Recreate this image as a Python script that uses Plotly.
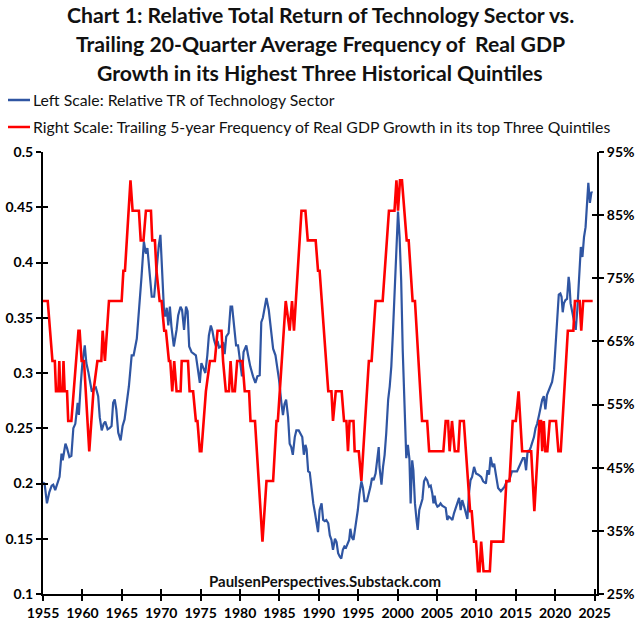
import plotly.graph_objects as go

# ---------------- data ----------------
tech_years = [
    1955.0, 1955.2, 1955.5, 1955.8, 1956.1, 1956.3, 1956.55, 1956.9, 1957.1, 1957.35, 1957.5, 1957.85,
    1958.05, 1958.35, 1958.6, 1958.85, 1959.1, 1959.4, 1959.55, 1959.8, 1960.0, 1960.3, 1960.5, 1960.75,
    1960.95, 1961.2, 1961.45, 1961.7, 1962.0, 1962.2, 1962.45, 1962.7, 1962.9, 1963.2, 1963.45, 1963.7,
    1963.9, 1964.1, 1964.3, 1964.55, 1964.85, 1965.1, 1965.35, 1965.7, 1965.9, 1966.25, 1966.5, 1966.9,
    1967.2, 1967.5, 1967.8, 1968.05, 1968.25, 1968.5, 1968.8, 1969.1, 1969.4, 1969.7, 1969.9, 1970.15,
    1970.35, 1970.5, 1970.7, 1970.9, 1971.1, 1971.3, 1971.6, 1971.95, 1972.15, 1972.45, 1972.65, 1972.9,
    1973.15, 1973.35, 1973.55, 1973.85, 1974.2, 1974.4, 1974.6, 1974.9, 1975.1, 1975.35, 1975.6, 1975.85,
    1976.05, 1976.3, 1976.5, 1976.7, 1976.95, 1977.15, 1977.35, 1977.6, 1977.85, 1978.05, 1978.25, 1978.55,
    1978.8, 1979.0, 1979.2, 1979.5, 1979.75, 1980.05, 1980.25, 1980.45, 1980.8, 1981.0, 1981.3, 1981.65,
    1981.95, 1982.2, 1982.5, 1982.7, 1982.9, 1983.15, 1983.35, 1983.65, 1983.9, 1984.2, 1984.5, 1984.7,
    1984.95, 1985.25, 1985.45, 1985.65, 1985.85, 1986.1, 1986.3, 1986.5, 1986.7, 1986.95, 1987.15, 1987.45,
    1987.7, 1987.9, 1988.1, 1988.3, 1988.45, 1988.65, 1988.85, 1989.1, 1989.3, 1989.5, 1989.7, 1989.9,
    1990.1, 1990.35, 1990.55, 1990.75, 1990.95, 1991.2, 1991.4, 1991.6, 1991.8, 1992.05, 1992.25, 1992.45,
    1992.65, 1992.85, 1993.05, 1993.25, 1993.45, 1993.65, 1993.85, 1994.0, 1994.2, 1994.4, 1994.55, 1994.75,
    1994.95, 1995.15, 1995.4, 1995.6, 1995.8, 1996.1, 1996.35, 1996.55, 1996.75, 1996.95, 1997.2, 1997.4,
    1997.6, 1997.7, 1997.95, 1998.15, 1998.35, 1998.55, 1998.8, 1999.0, 1999.2, 1999.4, 1999.6, 1999.85,
    2000.05, 2000.25, 2000.45, 2000.65, 2000.9, 2001.1, 2001.3, 2001.5, 2001.65, 2001.85, 2002.0, 2002.2,
    2002.4, 2002.55, 2002.75, 2002.95, 2003.15, 2003.35, 2003.55, 2003.75, 2004.0, 2004.2, 2004.4, 2004.55,
    2004.7, 2004.85, 2005.05, 2005.25, 2005.45, 2005.65, 2005.9, 2006.1, 2006.3, 2006.5, 2006.7, 2006.95,
    2007.15, 2007.35, 2007.6, 2007.8, 2008.0, 2008.2, 2008.45, 2008.65, 2008.85, 2009.05, 2009.25, 2009.45,
    2009.7, 2009.95, 2010.25, 2010.6, 2010.85, 2011.2, 2011.4, 2011.6, 2011.8, 2012.05, 2012.25, 2012.45,
    2012.75, 2013.1, 2013.35, 2013.55, 2013.85, 2014.1, 2014.3, 2014.5, 2014.8, 2015.15, 2015.4, 2015.6,
    2015.9, 2016.1, 2016.3, 2016.5, 2016.7, 2016.9, 2017.1, 2017.3, 2017.5, 2017.7, 2017.95, 2018.15,
    2018.35, 2018.55, 2018.75, 2018.95, 2019.2, 2019.4, 2019.6, 2019.85, 2020.05, 2020.25, 2020.45, 2020.65,
    2020.8, 2020.95, 2021.1, 2021.3, 2021.5, 2021.7, 2021.8, 2021.95, 2022.2, 2022.4, 2022.6, 2022.8,
    2023.05, 2023.25, 2023.45, 2023.65, 2023.85, 2024.0, 2024.2, 2024.4, 2024.6, 2024.7,
]
tech_relative_tr = [
    0.201, 0.200, 0.182, 0.192, 0.198, 0.199, 0.194, 0.202, 0.206, 0.227, 0.221, 0.236,
    0.232, 0.224, 0.225, 0.250, 0.254, 0.273, 0.262, 0.291, 0.309, 0.325, 0.309, 0.301,
    0.294, 0.283, 0.286, 0.287, 0.279, 0.260, 0.248, 0.254, 0.256, 0.249, 0.250, 0.252,
    0.273, 0.276, 0.267, 0.246, 0.239, 0.252, 0.258, 0.276, 0.288, 0.316, 0.316, 0.331,
    0.357, 0.387, 0.419, 0.408, 0.413, 0.393, 0.369, 0.369, 0.396, 0.416, 0.425, 0.384,
    0.357, 0.351, 0.359, 0.343, 0.360, 0.342, 0.324, 0.339, 0.352, 0.360, 0.357, 0.339,
    0.360, 0.356, 0.324, 0.319, 0.317, 0.316, 0.306, 0.291, 0.309, 0.305, 0.300, 0.316,
    0.334, 0.343, 0.338, 0.330, 0.324, 0.329, 0.323, 0.324, 0.328, 0.317, 0.333, 0.336,
    0.360, 0.360, 0.347, 0.325, 0.325, 0.309, 0.297, 0.319, 0.325, 0.317, 0.306, 0.297,
    0.291, 0.297, 0.298, 0.346, 0.350, 0.360, 0.368, 0.357, 0.342, 0.322, 0.316, 0.306,
    0.294, 0.273, 0.262, 0.272, 0.276, 0.260, 0.236, 0.233, 0.226, 0.242, 0.248, 0.248,
    0.245, 0.242, 0.226, 0.235, 0.231, 0.211, 0.210, 0.191, 0.182, 0.174, 0.165, 0.156,
    0.176, 0.182, 0.167, 0.166, 0.167, 0.164, 0.153, 0.149, 0.140, 0.150, 0.147, 0.137,
    0.134, 0.132, 0.140, 0.143, 0.142, 0.145, 0.149, 0.159, 0.151, 0.149, 0.156, 0.168,
    0.176, 0.190, 0.202, 0.196, 0.184, 0.184, 0.191, 0.197, 0.205, 0.203, 0.209, 0.221,
    0.233, 0.215, 0.199, 0.215, 0.226, 0.245, 0.276, 0.288, 0.306, 0.336, 0.369, 0.408,
    0.446, 0.423, 0.384, 0.320, 0.264, 0.223, 0.235, 0.222, 0.182, 0.221, 0.212, 0.182,
    0.167, 0.158, 0.176, 0.182, 0.186, 0.202, 0.205, 0.203, 0.197, 0.198, 0.191, 0.182,
    0.189, 0.182, 0.179, 0.180, 0.182, 0.180, 0.179, 0.178, 0.167, 0.170, 0.169, 0.167,
    0.173, 0.177, 0.182, 0.187, 0.176, 0.185, 0.179, 0.174, 0.168, 0.191, 0.203, 0.206,
    0.215, 0.209, 0.208, 0.206, 0.202, 0.200, 0.212, 0.208, 0.224, 0.215, 0.218, 0.209,
    0.196, 0.193, 0.195, 0.197, 0.202, 0.202, 0.206, 0.211, 0.211, 0.211, 0.215, 0.218,
    0.223, 0.223, 0.212, 0.230, 0.229, 0.233, 0.238, 0.242, 0.250, 0.254, 0.262, 0.268,
    0.276, 0.279, 0.267, 0.280, 0.285, 0.288, 0.292, 0.303, 0.324, 0.351, 0.371, 0.372,
    0.369, 0.355, 0.363, 0.366, 0.367, 0.387, 0.381, 0.363, 0.354, 0.345, 0.339, 0.357,
    0.390, 0.414, 0.405, 0.423, 0.432, 0.450, 0.472, 0.454, 0.464, 0.463,
]

gdp_years = [
    1955.0, 1955.6, 1956.2, 1956.5, 1956.65, 1956.95, 1957.07, 1957.2, 1957.5, 1957.6, 1957.75, 1958.05,
    1958.2, 1958.6, 1959.5, 1959.65, 1959.9, 1960.2, 1960.87, 1961.4, 1961.9, 1962.4, 1962.57, 1962.86,
    1963.37, 1964.98, 1965.2, 1965.4, 1966.1, 1966.37, 1967.17, 1967.4, 1967.75, 1968.06, 1968.7, 1968.86,
    1969.2, 1969.4, 1969.8, 1970.05, 1970.38, 1970.6, 1970.98, 1971.15, 1971.4, 1971.65, 1971.95, 1972.46,
    1972.6, 1973.4, 1973.6, 1974.05, 1974.4, 1974.6, 1974.9, 1975.1, 1975.67, 1976.18, 1976.8, 1977.15,
    1977.65, 1977.85, 1978.2, 1978.6, 1978.8, 1979.05, 1979.35, 1979.64, 1980.3, 1980.6, 1981.15, 1981.33,
    1981.9, 1982.85, 1983.36, 1984.2, 1984.63, 1984.8, 1985.8, 1986.3, 1986.6, 1986.85, 1987.8, 1988.3,
    1988.6, 1989.6, 1989.9, 1990.1, 1991.2, 1991.6, 1991.8, 1992.15, 1992.9, 1993.2, 1993.5, 1993.7,
    1993.9, 1994.4, 1994.55, 1995.07, 1995.4, 1996.35, 1996.7, 1997.2, 1998.1, 1998.9, 1999.6, 1999.85,
    2000.05, 2000.3, 2000.55, 2001.15, 2001.4, 2001.9, 2002.2, 2003.1, 2003.75, 2004.0, 2005.8, 2006.1,
    2006.4, 2006.6, 2006.9, 2007.25, 2007.7, 2007.9, 2008.4, 2009.2, 2009.4, 2009.7, 2009.95, 2010.2,
    2010.4, 2010.6, 2010.9, 2011.7, 2011.9, 2013.4, 2013.8, 2014.2, 2014.6, 2015.0, 2015.35, 2015.8,
    2016.95, 2017.35, 2018.0, 2018.2, 2018.35, 2018.55, 2018.75, 2019.0, 2019.3, 2020.1, 2020.4, 2020.7,
    2021.6, 2022.3, 2022.5, 2023.1, 2023.3, 2023.55, 2024.75,
]
gdp_top3_freq_pct = [
    71.4, 71.4, 61.9, 61.9, 57.1, 57.1, 61.9, 57.1, 57.1, 61.9, 57.1, 57.1,
    52.4, 52.4, 66.7, 66.7, 61.9, 61.9, 47.6, 57.1, 61.9, 61.9, 66.7, 61.9,
    71.4, 71.4, 76.2, 76.2, 90.5, 85.7, 85.7, 81.0, 81.0, 85.7, 85.7, 81.0,
    81.0, 76.2, 71.4, 71.4, 66.7, 66.7, 61.9, 61.9, 57.1, 61.9, 57.1, 57.1,
    61.9, 61.9, 57.1, 57.1, 52.4, 52.4, 47.6, 47.6, 57.1, 61.9, 61.9, 66.7,
    66.7, 61.9, 57.1, 57.1, 61.9, 57.1, 57.1, 61.9, 61.9, 57.1, 57.1, 52.4,
    52.4, 33.3, 42.9, 42.9, 52.4, 52.4, 71.4, 66.7, 71.4, 66.7, 85.7, 85.7,
    81.0, 81.0, 76.2, 76.2, 57.1, 57.1, 52.4, 57.1, 57.1, 52.4, 52.4, 47.6,
    52.4, 52.4, 47.6, 47.6, 42.9, 61.9, 61.9, 71.4, 71.4, 85.7, 85.7, 90.5,
    85.7, 90.5, 90.5, 81.0, 81.0, 71.4, 71.4, 52.4, 52.4, 47.6, 47.6, 52.4,
    52.4, 47.6, 52.4, 47.6, 47.6, 52.4, 52.4, 38.1, 38.1, 33.3, 33.3, 28.6,
    28.6, 33.3, 28.6, 28.6, 33.3, 33.3, 42.9, 42.9, 52.4, 52.4, 57.1, 47.6,
    47.6, 38.1, 52.4, 52.4, 47.6, 52.4, 47.6, 47.6, 52.4, 52.4, 47.6, 47.6,
    66.7, 66.7, 71.4, 71.4, 66.7, 71.4, 71.4,
]

x_ticks = [1955, 1960, 1965, 1970, 1975, 1980, 1985, 1990, 1995, 2000, 2005, 2010, 2015, 2020, 2025]
left_ticks = [0.1, 0.15, 0.2, 0.25, 0.3, 0.35, 0.4, 0.45, 0.5]
right_ticks = [25, 35, 45, 55, 65, 75, 85, 95]
right_tick_labels = ["25%", "35%", "45%", "55%", "65%", "75%", "85%", "95%"]

title_lines = [
    "Chart 1: Relative Total Return of Technology Sector vs.",
    "Trailing 20-Quarter Average Frequency of  Real GDP",
    "Growth in its Highest Three Historical Quintiles",
]
legend_texts = [
    "Left Scale: Relative TR of Technology Sector",
    "Right Scale: Trailing 5-year Frequency of Real GDP Growth in its top Three Quintiles",
]
source_text = "PaulsenPerspectives.Substack.com"

BLUE = "#2F55A2"
RED = "#FF0000"
FONT = "Lato"

# ---------------- figure ----------------
fig = go.Figure()
fig.add_trace(go.Scatter(x=tech_years, y=tech_relative_tr, mode="lines",
                         line=dict(color=BLUE, width=2.2), name=legend_texts[0],
                         yaxis="y", showlegend=False))
fig.add_trace(go.Scatter(x=gdp_years, y=gdp_top3_freq_pct, mode="lines",
                         line=dict(color=RED, width=2.6), name=legend_texts[1],
                         yaxis="y2", showlegend=False))

W, H = 640, 620
L, R, T, B = 43, 43, 152, 26
ph = H - T - B
pw = W - L - R

def py(ypix):
    return (H - B - ypix) / ph

def px(xpix):
    return (xpix - L) / pw

tickfont = dict(family=FONT, size=14, color="black", weight="bold")
xr = [1955, 2025.3]

axis_common = dict(showgrid=False, zeroline=False, showline=True, linecolor="black",
                   linewidth=2, ticks="outside", ticklen=5, tickwidth=2, tickcolor="black",
                   tickfont=tickfont, automargin=False)
inner_common = dict(ticks="inside", ticklen=5, tickwidth=2, tickcolor="black",
                    showticklabels=False, showline=False, showgrid=False, zeroline=False,
                    automargin=False)

fig.update_layout(
    width=W, height=H,
    margin=dict(l=L, r=R, t=T, b=B, pad=0, autoexpand=False),
    paper_bgcolor="white", plot_bgcolor="white",
    font=dict(family=FONT, color="black"),
    xaxis=dict(range=xr, tickmode="array", tickvals=x_ticks, **axis_common),
    yaxis=dict(range=[0.1, 0.5], tickmode="array", tickvals=left_ticks, **axis_common),
    yaxis2=dict(range=[25, 95], tickmode="array", tickvals=right_ticks,
                ticktext=right_tick_labels, overlaying="y", side="right", anchor="x",
                **axis_common),
    # companion axes giving the crossing (inside) half of each tick
    xaxis2=dict(range=xr, tickmode="array", tickvals=x_ticks, overlaying="x", anchor="y",
                side="bottom", **inner_common),
    yaxis3=dict(range=[0.1, 0.5], tickmode="array", tickvals=left_ticks, overlaying="y",
                anchor="x", side="left", **inner_common),
    yaxis4=dict(range=[25, 95], tickmode="array", tickvals=right_ticks, overlaying="y",
                anchor="x", side="right", **inner_common),
    showlegend=False,
)

# invisible anchors so companion axes are drawn
fig.add_trace(go.Scatter(x=[xr[0]], y=[0.1], xaxis="x2", yaxis="y3", mode="markers",
                         marker=dict(opacity=0), hoverinfo="skip", showlegend=False))
fig.add_trace(go.Scatter(x=[xr[0]], y=[25], xaxis="x", yaxis="y4", mode="markers",
                         marker=dict(opacity=0), hoverinfo="skip", showlegend=False))

# title
for text, ypix in zip(title_lines, [15, 44, 73]):
    fig.add_annotation(text=f"<b>{text}</b>", xref="paper", yref="paper",
                       x=px(W / 2), y=py(ypix), xanchor="center", yanchor="middle",
                       showarrow=False, font=dict(family=FONT, size=21.2, color="#111111"))

# legend (drawn manually)
for text, color, ypix in zip(legend_texts, [BLUE, RED], [100, 127]):
    fig.add_shape(type="line", xref="paper", yref="paper",
                  x0=px(8), x1=px(30), y0=py(ypix), y1=py(ypix),
                  line=dict(color=color, width=2.5))
    fig.add_annotation(text=text, xref="paper", yref="paper", x=px(31), y=py(ypix),
                       xanchor="left", yanchor="middle", showarrow=False,
                       font=dict(family=FONT, size=15.8, color="#111111"))

# source
fig.add_annotation(text=f"<b>{source_text}</b>", xref="paper", yref="paper",
                   x=px(325), y=py(581), xanchor="center", yanchor="middle",
                   showarrow=False, font=dict(family=FONT, size=15, color="#111111"))

fig.write_html("out.html", config={"displayModeBar": False},
               post_script="document.body.style.margin='0';")
